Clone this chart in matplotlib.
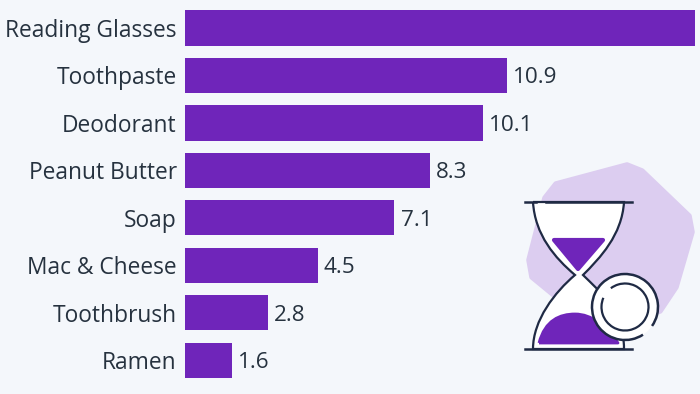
import matplotlib.pyplot as plt
from matplotlib.patches import Circle, Polygon, PathPatch, Arc
from matplotlib.path import Path

plt.rcParams['font.family'] = ['Open Sans', 'DejaVu Sans']

categories = ['Reading Glasses', 'Toothpaste', 'Deodorant', 'Peanut Butter',
              'Soap', 'Mac & Cheese', 'Toothbrush', 'Ramen']
values = [17.3, 10.9, 10.1, 8.3, 7.1, 4.5, 2.8, 1.6]
value_labels = ['', '10.9', '10.1', '8.3', '7.1', '4.5', '2.8', '1.6']

BG = '#f4f7fb'
PURPLE = '#6f25ba'
LILAC = '#dccdf0'
INK = '#1f2a44'
TEXT = '#26323f'

fig = plt.figure(figsize=(7, 3.94), dpi=100, facecolor=BG)

# bars
ax = fig.add_axes([185 / 700, 0, 515 / 700, 1])
ax.set_facecolor('none')
pos = list(range(len(categories)))
ax.barh(pos, values, height=0.74, color=PURPLE)
ax.set_xlim(0, 515 / 29.5)
ax.set_ylim(7.71, -0.59)
ax.set_yticks(pos, categories)
ax.set_xticks([])
ax.tick_params(axis='y', length=0, pad=6, labelsize=16.4, labelcolor=TEXT)
for s in ax.spines.values():
    s.set_visible(False)
for p, v, lab in zip(pos, values, value_labels):
    ax.annotate(lab, (v, p), xytext=(4.5, 0), textcoords='offset points',
                va='center_baseline', ha='left', fontsize=16.2, color=TEXT)

# hourglass icon, drawn in image pixels
ic = fig.add_axes([0, 0, 1, 1])
ic.set_xlim(0, 700)
ic.set_ylim(394, 0)
ic.axis('off')
ic.patch.set_alpha(0)

blob = [(627, 165), (642, 171), (689, 216), (692, 232), (676, 287), (660, 311),
        (620, 322), (560, 300), (532, 277), (529, 260), (545, 198), (556, 184)]
ic.add_patch(Polygon(blob, closed=True, fc=LILAC, ec=LILAC, lw=4, joinstyle='round'))

# glass body
glass = Path([(533, 202), (535, 235), (555, 258), (575, 275),
              (555, 292), (533, 320), (533, 349),
              (624, 349), (624, 310), (600, 292), (583, 275),
              (600, 258), (622, 235), (624, 202), (533, 202)],
             [1, 4, 4, 4, 4, 4, 4, 2, 4, 4, 4, 4, 4, 4, 2])
ic.add_patch(PathPatch(glass, fc='white', ec=INK, lw=1.6))

# sand
ic.add_patch(Polygon([(554, 240), (603, 240), (578, 269)], closed=True,
                     fc=PURPLE, ec=PURPLE, lw=3, joinstyle='round'))
sand = Path([(539, 343), (545, 320), (560, 314), (575, 314),
             (592, 314), (606, 326), (618, 343), (539, 343)],
            [1, 4, 4, 4, 4, 4, 4, 2])
ic.add_patch(PathPatch(sand, fc=PURPLE, ec=PURPLE, lw=2, joinstyle='round'))

# caps
ic.plot([525, 536], [202, 202], color=INK, lw=1.8)
ic.plot([546, 632], [202, 202], color=INK, lw=1.8)
ic.plot([525, 632], [349, 349], color=INK, lw=1.8)

# clock, both rings have a small gap
ic.add_patch(Circle((625, 307), 33, fc='white', ec='none'))
ic.add_patch(Arc((625, 307), 66, 66, theta1=57, theta2=395, ec=INK, lw=1.8))
ic.add_patch(Arc((625, 307), 47, 47, theta1=233, theta2=563, ec=INK, lw=1.6))

fig.savefig('out.png', dpi=100, facecolor=BG)
